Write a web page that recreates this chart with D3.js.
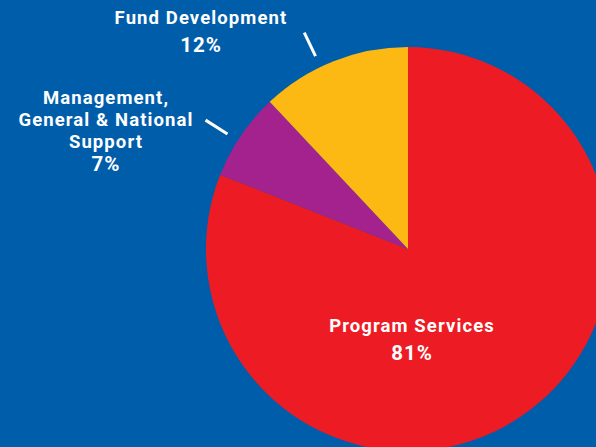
<!DOCTYPE html>
<html>
<head>
<meta charset="utf-8">
<script src="https://cdn.jsdelivr.net/npm/d3@7"></script>
<style>
  html, body { margin: 0; padding: 0; background: #005DAA; overflow: hidden; }
  text { font-family: Roboto, "Noto Sans", sans-serif; font-weight: 700; fill: #fff; }
</style>
</head>
<body>
<svg id="chart" width="596" height="447"></svg>
<script>
// slices, clockwise from 12 o'clock
var categories = ["Program Services", "Management, General & National Support", "Fund Development"];
var shares = [81, 7, 12];
var colors = ["#ED1C24", "#A3228D", "#FDB913"];

var width = 596, height = 447;
var cx = 408, cy = 249, radius = 202;

var svg = d3.select("#chart");
var g = svg.append("g").attr("transform", "translate(" + cx + "," + cy + ")");

var pie = d3.pie().sort(null).value(function(d) { return d; });
var arcs = pie(shares);
var arc = d3.arc().innerRadius(0).outerRadius(radius);

g.selectAll("path")
  .data(arcs)
  .enter()
  .append("path")
    .attr("d", arc)
    .attr("fill", function(d, i) { return colors[i]; });

// little leader ticks for the two outside labels
var tickAngleShift = [0, -0.03, -0.07];
[1, 2].forEach(function(i) {
  var a = (arcs[i].startAngle + arcs[i].endAngle) / 2 + tickAngleShift[i];
  var r0 = 214, r1 = 240;
  g.append("line")
    .attr("x1", Math.sin(a) * r0).attr("y1", -Math.cos(a) * r0)
    .attr("x2", Math.sin(a) * r1).attr("y2", -Math.cos(a) * r1)
    .attr("stroke", "#fff")
    .attr("stroke-width", 3);
});

// labels (lines of text + percent), one text element per line
var labelLines = [["Program Services"], ["Management,", "General & National", "Support"], ["Fund Development"]];
var labelPos = [[412, 332], [106, 104], [201, 24]];

labelLines.forEach(function(lines, i) {
  var x = labelPos[i][0], y = labelPos[i][1];
  lines.forEach(function(s, k) {
    svg.append("text")
      .attr("text-anchor", "middle")
      .attr("font-size", 18.5)
      .attr("letter-spacing", 1.1)
      .attr("x", x)
      .attr("y", y + k * 22)
      .text(s);
  });
  svg.append("text")
    .attr("text-anchor", "middle")
    .attr("font-size", 20.5)
    .attr("letter-spacing", 1)
    .attr("x", x)
    .attr("y", y + lines.length * 22 + (lines.length > 1 ? 1 : 6))
    .text(shares[i] + "%");
});
</script>
</body>
</html>
